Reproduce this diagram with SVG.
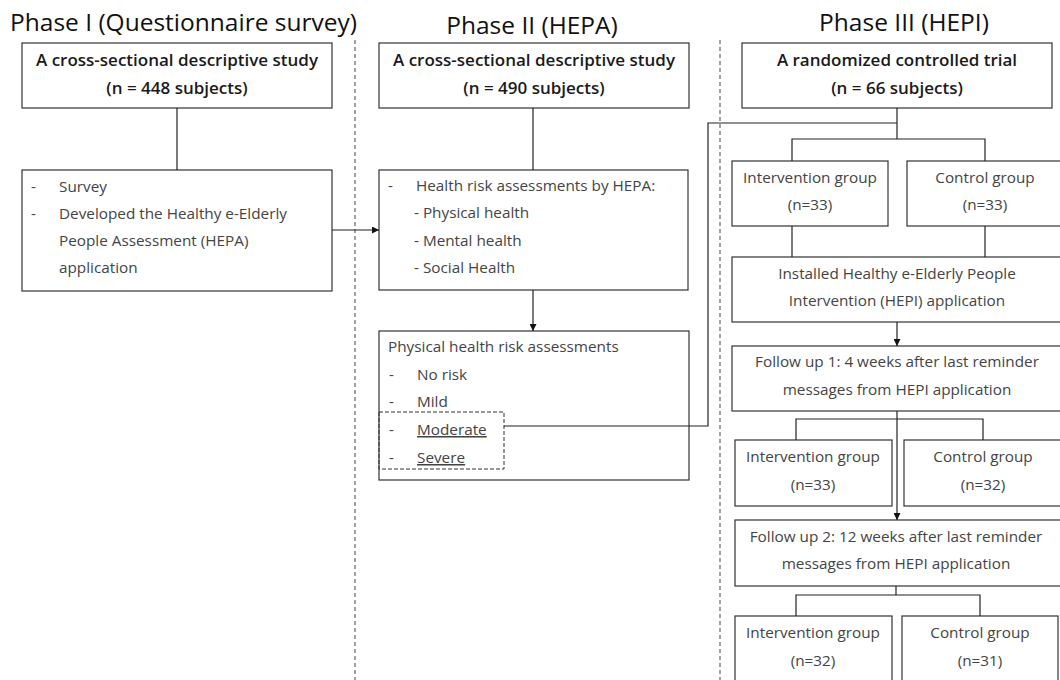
<svg xmlns="http://www.w3.org/2000/svg" width="1060" height="680" viewBox="0 0 1060 680">
  <style>
    .box { fill: #ffffff; stroke: #333333; stroke-width: 1.2; }
    .line { fill: none; stroke: #222222; stroke-width: 1.2; }
    .divider { fill: none; stroke: #444444; stroke-width: 1; stroke-dasharray: 4 3; }
    .dashbox { fill: none; stroke: #333333; stroke-width: 1; stroke-dasharray: 4 2; }
    .phase { font-family: "Open Sans", "Noto Sans", sans-serif; font-size: 24.5px; fill: #111111; }
    .head { font-family: "Open Sans", "Noto Sans", sans-serif; font-size: 17px; font-weight: 600; fill: #1a1a1a; text-anchor: middle; }
    .body { font-family: "Open Sans", "Noto Sans", sans-serif; font-size: 15.3px; fill: #444444; }
    .mid { text-anchor: middle; }
    .u { text-decoration: underline; }
  </style>
  <defs>
    <marker id="arrow" viewBox="0 0 10 10" refX="10" refY="5" markerWidth="7" markerHeight="7" orient="auto" markerUnits="userSpaceOnUse">
      <path d="M0,0 L10,5 L0,10 z" fill="#111111"/>
    </marker>
  </defs>

  <!-- phase headings -->
  <g id="headings">
    <text class="phase" x="10" y="31">Phase I (Questionnaire survey)</text>
    <text class="phase" x="532" y="34" text-anchor="middle">Phase II (HEPA)</text>
    <text class="phase" x="904" y="31" text-anchor="middle">Phase III (HEPI)</text>
  </g>

  <!-- phase dividers -->
  <g id="dividers">
    <line class="divider" x1="355" y1="40" x2="355" y2="680"/>
    <line class="divider" x1="720" y1="40" x2="720" y2="680"/>
  </g>

  <!-- Phase I -->
  <g id="p1-study">
    <rect class="box" x="22" y="43" width="310" height="65"/>
    <text class="head" x="177" y="66">A cross-sectional descriptive study</text>
    <text class="head" x="177" y="94">(n = 448 subjects)</text>
  </g>
  <g id="p1-tasks">
    <rect class="box" x="22" y="170" width="310" height="121"/>
    <text class="body" x="31" y="192">-</text>
    <text class="body" x="59" y="192">Survey</text>
    <text class="body" x="31" y="219">-</text>
    <text class="body" x="59" y="219">Developed the Healthy e-Elderly</text>
    <text class="body" x="59" y="246">People Assessment (HEPA)</text>
    <text class="body" x="59" y="273">application</text>
  </g>

  <!-- Phase II -->
  <g id="p2-study">
    <rect class="box" x="379" y="43" width="310" height="65"/>
    <text class="head" x="534" y="66">A cross-sectional descriptive study</text>
    <text class="head" x="534" y="94">(n = 490 subjects)</text>
  </g>
  <g id="p2-assess">
    <rect class="box" x="379" y="170" width="309" height="120"/>
    <text class="body" x="388" y="191">-</text>
    <text class="body" x="416" y="191">Health risk assessments by HEPA:</text>
    <text class="body" x="414" y="218">- Physical health</text>
    <text class="body" x="414" y="246">- Mental health</text>
    <text class="body" x="414" y="273">- Social Health</text>
  </g>
  <g id="p2-risk">
    <rect class="box" x="379" y="331" width="310" height="149"/>
    <text class="body" x="388" y="352">Physical health risk assessments</text>
    <text class="body" x="389" y="380">-</text>
    <text class="body" x="417" y="380">No risk</text>
    <text class="body" x="389" y="407">-</text>
    <text class="body" x="417" y="407">Mild</text>
    <text class="body" x="389" y="435">-</text>
    <text class="body u" x="417" y="435">Moderate</text>
    <text class="body" x="389" y="463">-</text>
    <text class="body u" x="417" y="463">Severe</text>
    <rect class="dashbox" x="379" y="412" width="125" height="57"/>
  </g>

  <!-- Phase III -->
  <g id="p3-trial">
    <rect class="box" x="742" y="43" width="310" height="65"/>
    <text class="head" x="897" y="66">A randomized controlled trial</text>
    <text class="head" x="897" y="94">(n = 66 subjects)</text>
  </g>
  <g id="p3-ig1">
    <rect class="box" x="732" y="161" width="156" height="65"/>
    <text class="body mid" x="810" y="183">Intervention group</text>
    <text class="body mid" x="810" y="210">(n=33)</text>
  </g>
  <g id="p3-cg1">
    <rect class="box" x="907" y="161" width="160" height="65"/>
    <text class="body mid" x="985" y="183">Control group</text>
    <text class="body mid" x="985" y="210">(n=33)</text>
  </g>
  <g id="p3-install">
    <rect class="box" x="732" y="257" width="335" height="65"/>
    <text class="body mid" x="897" y="279">Installed Healthy e-Elderly People</text>
    <text class="body mid" x="897" y="306">Intervention (HEPI) application</text>
  </g>
  <g id="p3-fu1">
    <rect class="box" x="732" y="346" width="335" height="65"/>
    <text class="body mid" x="897" y="367">Follow up 1: 4 weeks after last reminder</text>
    <text class="body mid" x="897" y="395">messages from HEPI application</text>
  </g>
  <g id="p3-ig2">
    <rect class="box" x="735" y="440" width="157" height="66"/>
    <text class="body mid" x="813" y="462">Intervention group</text>
    <text class="body mid" x="813" y="490">(n=33)</text>
  </g>
  <g id="p3-cg2">
    <rect class="box" x="904" y="440" width="160" height="66"/>
    <text class="body mid" x="983" y="462">Control group</text>
    <text class="body mid" x="983" y="490">(n=32)</text>
  </g>
  <g id="p3-fu2">
    <rect class="box" x="735" y="520" width="332" height="66"/>
    <text class="body mid" x="896" y="542">Follow up 2: 12 weeks after last reminder</text>
    <text class="body mid" x="896" y="569">messages from HEPI application</text>
  </g>
  <g id="p3-ig3">
    <rect class="box" x="735" y="616" width="157" height="70"/>
    <text class="body mid" x="813" y="638">Intervention group</text>
    <text class="body mid" x="813" y="666">(n=32)</text>
  </g>
  <g id="p3-cg3">
    <rect class="box" x="902" y="616" width="156" height="70"/>
    <text class="body mid" x="980" y="638">Control group</text>
    <text class="body mid" x="980" y="666">(n=31)</text>
  </g>

  <!-- connectors, drawn over the boxes -->
  <g id="connectors">
    <line class="line" x1="177" y1="108" x2="177" y2="170"/>
    <line class="line" x1="332" y1="230" x2="379" y2="230" marker-end="url(#arrow)"/>
    <line class="line" x1="533" y1="108" x2="533" y2="170"/>
    <line class="line" x1="533" y1="290" x2="533" y2="331" marker-end="url(#arrow)"/>
    <polyline class="line" points="504,426 708,426 708,123 897,123"/>
    <line class="line" x1="897" y1="108" x2="897" y2="139"/>
    <polyline class="line" points="792,161 792,139 985,139 985,161"/>
    <line class="line" x1="792" y1="226" x2="792" y2="257"/>
    <line class="line" x1="985" y1="226" x2="985" y2="257"/>
    <line class="line" x1="897" y1="322" x2="897" y2="346" marker-end="url(#arrow)"/>
    <line class="line" x1="897" y1="411" x2="897" y2="520" marker-end="url(#arrow)"/>
    <polyline class="line" points="796,440 796,419 983,419 983,440"/>
    <line class="line" x1="896" y1="586" x2="896" y2="595"/>
    <polyline class="line" points="796,616 796,595 980,595 980,616"/>
  </g>
</svg>
